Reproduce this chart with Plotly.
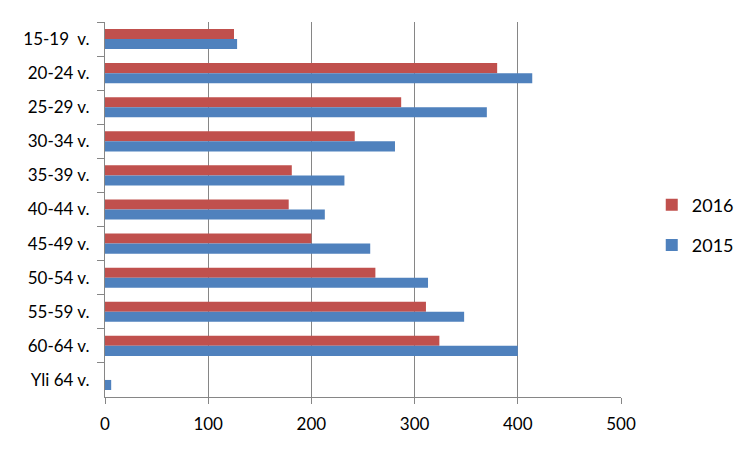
import plotly.graph_objects as go

categories = ["15-19  v.", "20-24 v.", "25-29 v.", "30-34 v.", "35-39 v.", "40-44 v.",
              "45-49 v.", "50-54 v.", "55-59 v.", "60-64 v.", "Yli 64 v."]
values_2016 = [125, 380, 287, 242, 181, 178, 200, 262, 311, 324, 0]
values_2015 = [128, 414, 370, 281, 232, 213, 257, 313, 348, 400, 6]
x_ticks = [0, 100, 200, 300, 400, 500]

RED = "#C0504D"
BLUE = "#4F81BD"
GRID = "#868686"
FONT = "Lato"

fig = go.Figure()
fig.add_trace(go.Bar(y=categories, x=values_2016, orientation="h", name="2016",
                     marker=dict(color=RED, line=dict(width=0)), legendgroup="a"))
fig.add_trace(go.Bar(y=categories, x=values_2015, orientation="h", name="2015",
                     marker=dict(color=BLUE, line=dict(width=0)), legendgroup="b"))

fig.update_layout(
    width=750, height=450,
    margin=dict(l=105, r=129, t=22, b=53, autoexpand=False),
    paper_bgcolor="white", plot_bgcolor="white",
    barmode="group", bargap=0.41, bargroupgap=0,
    font=dict(family=FONT, size=17, color="#000000"),
    legend=dict(xref="container", yref="container", x=0.869, y=0.5,
                xanchor="left", yanchor="middle",
                traceorder="grouped", tracegroupgap=14,
                font=dict(family=FONT, size=18), itemwidth=30),
    showlegend=True,
)
fig.update_xaxes(range=[0, 500], tickvals=x_ticks, showgrid=True, gridcolor=GRID, gridwidth=1,
                 showline=True, linecolor=GRID, linewidth=1, ticks="outside", ticklen=6,
                 tickcolor=GRID, zeroline=False, ticklabelstandoff=6, automargin=False)
fig.update_yaxes(autorange="reversed", showline=True, linecolor=GRID, linewidth=1,
                 ticks="outside", ticklen=7, tickcolor=GRID, tickson="boundaries",
                 showgrid=False, ticklabelstandoff=11, automargin=False)

fig.write_html("out.html")
